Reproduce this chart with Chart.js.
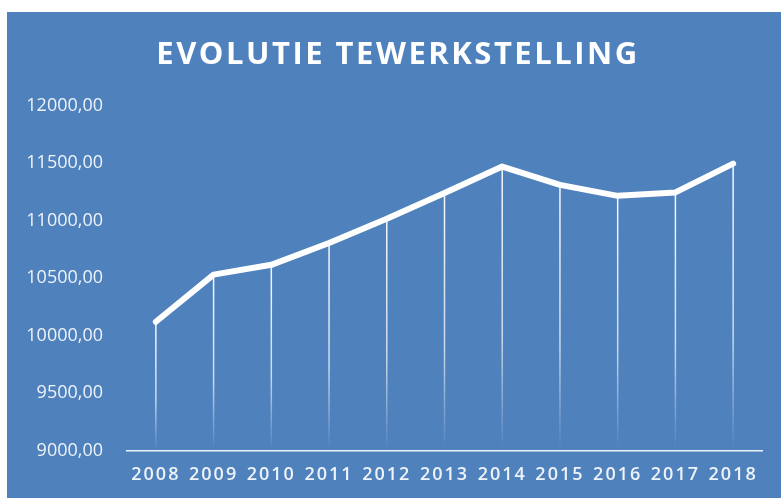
<!DOCTYPE html>
<html>
<head>
<meta charset="utf-8">
<script src="https://cdn.jsdelivr.net/npm/chart.js@4/dist/chart.umd.min.js"></script>
<style>
	html, body { margin: 0; padding: 0; background: #ffffff; }
	#wrap {
		position: absolute;
		left: 7px;
		top: 12px;
		width: 774px;
		height: 486px;
		background: #4f81bd;
	}
</style>
</head>
<body>
<div id="wrap"><canvas id="chart-line"></canvas></div>
<script>
	// Chart data
	const YEARS = ["2008", "2009", "2010", "2011", "2012", "2013", "2014", "2015", "2016", "2017", "2018"];
	const EMPLOYMENT = [10120, 10530, 10615, 10805, 11015, 11240, 11470, 11310, 11215, 11245, 11495];
	const Y_TICKS = [9000, 9500, 10000, 10500, 11000, 11500, 12000];

	const WHITE = "#ffffff";
	const MUTED = "rgba(255, 255, 255, 0.9)";

	// Thin fading lines from each point down to the axis
	const dropLines = {
		id: "dropLines",
		beforeDatasetsDraw(chart) {
			const ctx = chart.ctx;
			const bottom = chart.scales.y.bottom;
			chart.getDatasetMeta(0).data.forEach((pt) => {
				const grad = ctx.createLinearGradient(0, pt.y, 0, bottom);
				grad.addColorStop(0, "rgba(255, 255, 255, 0.95)");
				grad.addColorStop(0.6, "rgba(255, 255, 255, 0.7)");
				grad.addColorStop(1, "rgba(255, 255, 255, 0)");
				ctx.save();
				ctx.strokeStyle = grad;
				ctx.lineWidth = 1.5;
				ctx.beginPath();
				ctx.moveTo(pt.x, pt.y);
				ctx.lineTo(pt.x, bottom);
				ctx.stroke();
				ctx.restore();
			});
		},
	};

	// Letter spacing for the title and x labels
	const spacing = {
		id: "spacing",
		beforeDraw(chart) {
			const wrap = (obj, key, px) => {
				if (!obj || obj["_spaced_" + key]) return;
				const orig = obj[key].bind(obj);
				obj[key] = function (...args) {
					chart.ctx.save();
					chart.ctx.letterSpacing = px;
					orig(...args);
					chart.ctx.restore();
				};
				obj["_spaced_" + key] = true;
			};
			wrap(chart.titleBlock, "draw", "2.5px");
			wrap(chart.scales.x, "drawLabels", "2px");
		},
	};

	const DATA = {
		labels: YEARS,
		datasets: [
			{
				label: "Tewerkstelling",
				data: EMPLOYMENT,
				borderColor: WHITE,
				backgroundColor: "transparent",
				borderWidth: 6,
				borderCapStyle: "round",
				borderJoinStyle: "round",
				tension: 0,
				pointRadius: 0,
				pointHoverRadius: 0,
			},
		],
	};

	const CONFIG = {
		type: "line",
		data: DATA,
		plugins: [dropLines, spacing],
		options: {
			responsive: true,
			maintainAspectRatio: false,
			animation: false,
			layout: {
				padding: { left: 8, right: 0, top: 0, bottom: 0 },
			},
			plugins: {
				legend: { display: false },
				tooltip: { enabled: false },
				title: {
					display: true,
					text: "EVOLUTIE TEWERKSTELLING",
					color: WHITE,
					font: { family: "'Open Sans', sans-serif", size: 31, weight: "bold", lineHeight: 1.2 },
					padding: { top: 25, bottom: 31.4 },
				},
			},
			scales: {
				x: {
					offset: true,
					border: { display: true, color: "rgba(255, 255, 255, 0.9)", width: 1.5 },
					grid: { display: false, drawTicks: false },
					ticks: {
						color: MUTED,
						padding: 14,
						maxRotation: 0,
						autoSkip: false,
						font: { family: "'Open Sans', sans-serif", size: 18, weight: "600" },
					},
					afterFit(scale) {
						scale.height = 47.5;
					},
				},
				y: {
					min: 9000,
					max: 12000,
					border: { display: false },
					grid: { display: false, drawTicks: false },
					afterBuildTicks(scale) {
						scale.ticks = Y_TICKS.map((v) => ({ value: v }));
					},
					ticks: {
						color: MUTED,
						padding: 24,
						font: { family: "'Open Sans', sans-serif", size: 18 },
						callback: (v) => Number(v).toFixed(2).replace(".", ","),
					},
					afterFit(scale) {
						scale.width = 112;
					},
				},
				// empty right margin so the title centres like the reference
				yRight: {
					type: "linear",
					position: "right",
					border: { display: false },
					grid: { display: false, drawTicks: false },
					ticks: { display: false },
					afterFit(scale) {
						scale.width = 19;
					},
				},
			},
		},
	};

	// Init chart
	const WRAPPER = document.getElementById("chart-line");
	if (WRAPPER) {
		new Chart(WRAPPER, CONFIG);
	}
</script>
</body>
</html>
